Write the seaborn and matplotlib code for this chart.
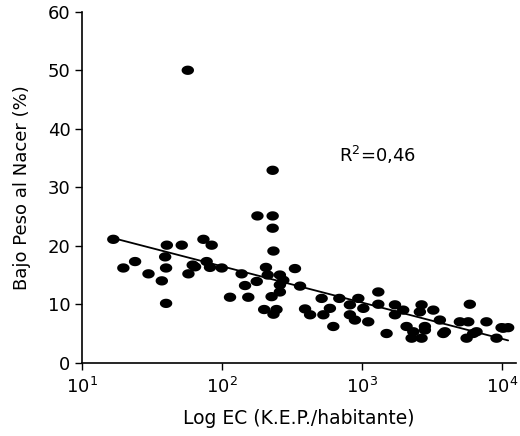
import numpy as np
import pandas as pd
import matplotlib
matplotlib.use("Agg")
import matplotlib.pyplot as plt
import seaborn as sns
from matplotlib.ticker import LogLocator, NullLocator

# ==== data ====
ec = [16.7, 19.7, 23.9, 29.8, 37.1, 39.2, 40.3, 39.8, 39.8, 51.5,
      57.5, 64.1, 73.6, 77.6, 84.3, 82.0, 99.5, 114, 138, 146,
      154, 177, 179, 230, 230, 230, 233, 206, 212, 259,
      259, 226, 200, 233, 245, 274, 56.9, 332, 361, 392,
      426, 515, 530, 590, 624, 689, 820, 891, 942, 1023,
      1109, 1309, 1309, 1500, 1722, 1722, 1972, 2084, 2265, 2667,
      2594, 2818, 2667, 3236, 3606, 3917, 5012, 5754, 5902, 5598,
      6237, 7762, 9162, 9954, 11092, 2328, 2818, 3811, 6592, 10233,
      820, 61.7, 259]
bpn = [21.1, 16.2, 17.3, 15.2, 14.0, 18.1, 20.1, 16.2, 10.15, 20.1,
       15.2, 16.4, 21.1, 17.3, 20.1, 16.3, 16.2, 11.2, 15.2, 13.2,
       11.2, 13.9, 25.1, 32.9, 25.1, 23.0, 19.1, 16.3, 15.0, 15.0,
       12.1, 11.3, 9.1, 8.3, 9.1, 14.1, 50.0, 16.1, 13.1, 9.2,
       8.2, 11.0, 8.2, 9.3, 6.2, 11.0, 8.2, 7.3, 11.0, 9.3,
       7.0, 12.1, 10.0, 5.0, 9.9, 8.2, 9.0, 6.2, 4.2, 9.9,
       8.7, 6.2, 4.2, 9.0, 7.3, 5.3, 7.0, 7.0, 10.0, 4.2,
       5.0, 7.0, 4.2, 6.0, 6.0, 5.3, 5.6, 5.0, 5.3, 5.9,
       9.9, 16.7, 13.3]
r2_text = "R$^2$=0,46"
y_ticks = [0, 10, 20, 30, 40, 50, 60]

df = pd.DataFrame({"ec": ec, "bpn": bpn})

sns.set_style("ticks")
plt.rcParams["font.family"] = ["DejaVu Sans"]
plt.rcParams["mathtext.default"] = "regular"
plt.rcParams["text.color"] = "black"
plt.rcParams["axes.labelcolor"] = "black"
plt.rcParams["xtick.color"] = "black"
plt.rcParams["ytick.color"] = "black"

# slightly flattened dots, like the scanned figure
t = np.linspace(0, 2 * np.pi, 40)
ellipse = list(zip(np.cos(t), 0.75 * np.sin(t)))

fig = plt.figure(figsize=(5.2, 4.36), dpi=100)
ax = fig.add_axes([0.158, 0.168, 0.834, 0.805])

# ==== scatter + log fit ====
sns.regplot(data=df, x="ec", y="bpn", logx=True, ci=None, ax=ax,
            marker=ellipse,
            scatter_kws=dict(s=80, color="black", edgecolor="none", alpha=1),
            line_kws=dict(color="black", lw=1.3))

ax.set_xscale("log")
ax.set_xlim(10, 10 ** 4.1)
ax.set_ylim(0, 60)
ax.set_yticks(y_ticks)
ax.xaxis.set_major_locator(LogLocator(base=10, numticks=10))
ax.xaxis.set_minor_locator(NullLocator())

ax.text(690, 35.5, r2_text, fontsize=13, va="center", ha="left")

ax.set_xlabel("Log EC (K.E.P./habitante)", fontsize=13.5, labelpad=9)
ax.set_ylabel("Bajo Peso al Nacer (%)", fontsize=13, labelpad=12)
ax.tick_params(labelsize=13, length=5, width=1, direction="out")
ax.tick_params(axis="x", pad=5)
for s in ["left", "bottom"]:
    ax.spines[s].set_color("black")
    ax.spines[s].set_linewidth(1.2)
sns.despine(ax=ax)

fig.savefig("out.png", dpi=100)
